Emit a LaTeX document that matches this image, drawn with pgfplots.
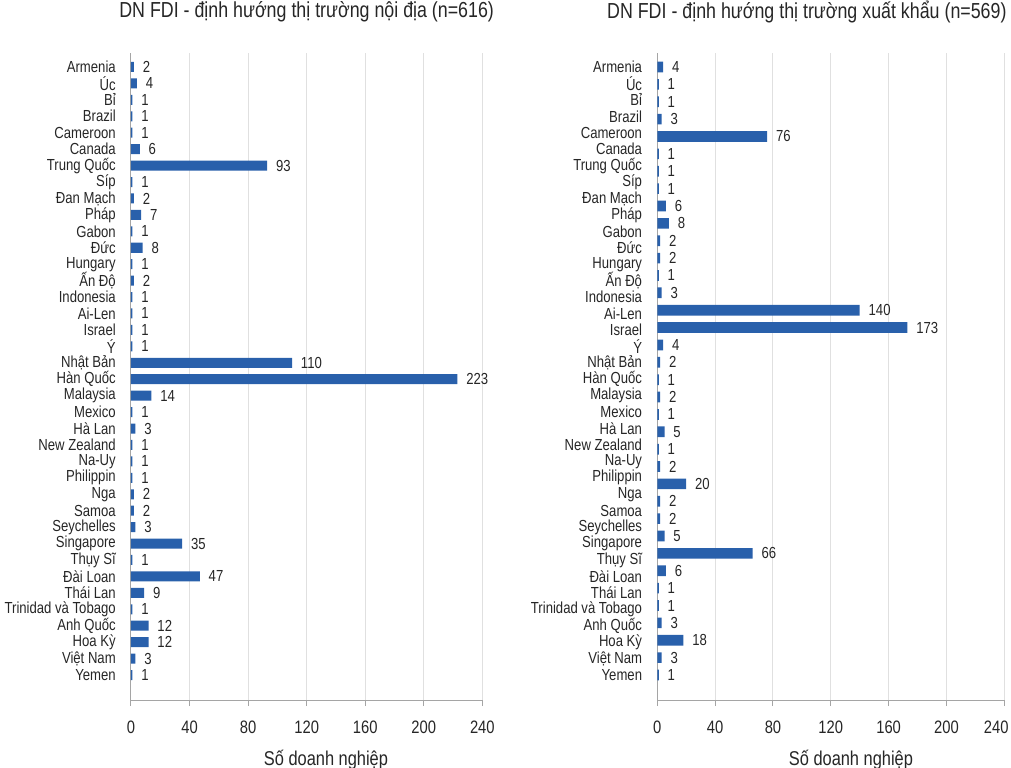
\documentclass[border=0pt]{standalone}
\usepackage{fontspec}
\setmainfont{Liberation Sans}[FakeStretch=0.82]
\usepackage{pgfplots}
\pgfplotsset{compat=1.18}
\usepackage{pgfplotstable}
\definecolor{barblue}{RGB}{41,96,171}
\definecolor{txt}{RGB}{38,38,38}
\definecolor{axgray}{RGB}{165,165,165}
\definecolor{gridgray}{RGB}{224,224,224}

\pgfplotstableread{
y v
37 2
36 4
35 1
34 1
33 1
32 6
31 93
30 1
29 2
28 7
27 1
26 8
25 1
24 2
23 1
22 1
21 1
20 1
19 110
18 223
17 14
16 1
15 3
14 1
13 1
12 1
11 2
10 2
9 3
8 35
7 1
6 47
5 9
4 1
3 12
2 12
1 3
0 1
}\leftdata

\pgfplotstableread{
y v
35 4
34 1
33 1
32 3
31 76
30 1
29 1
28 1
27 6
26 8
25 2
24 2
23 1
22 3
21 140
20 173
19 4
18 2
17 1
16 2
15 1
14 5
13 1
12 2
11 20
10 2
9 2
8 5
7 66
6 6
5 1
4 1
3 3
2 18
1 3
0 1
}\rightdata

\pgfplotsset{
  myaxis/.style={
    scale only axis, xbar, xmin=0, xmax=240,
    xtick={0,40,...,240},
    xmajorgrids, grid style={draw=gridgray, line width=0.75pt},
    axis x line*=bottom, axis y line*=left,
    axis line style={draw=axgray, line width=0.75pt, -},
    tick align=outside, major tick length=4.5pt,
    xtick style={draw=axgray, line width=0.75pt},
    ytick style={draw=none},
    /pgf/number format/assume math mode=true,
    ticklabel style={text=txt},
    xticklabel style={font=\fontsize{13.5}{16}\selectfont, anchor=center, yshift=-16pt},
    yticklabel style={font=\fontsize{12}{13}\selectfont, inner sep=0pt, xshift=-6.75pt},
    nodes near coords,
    every node near coord/.append style={font=\fontsize{12}{13}\selectfont, text=txt, anchor=west, inner sep=0pt, xshift=6.5pt},
    xlabel={Số doanh nghiệp},
    xlabel style={font=\fontsize{15}{17}\selectfont, text=txt, anchor=center},
    title style={font=\fontsize{16.3}{19}\selectfont, text=txt, anchor=center},
    yticklabels={Yemen, Việt Nam, Hoa Kỳ, Anh Quốc, Trinidad và Tobago, Thái Lan, Đài Loan, Thụy Sĩ, Singapore, Seychelles, Samoa, Nga, Philippin, Na-Uy, New Zealand, Hà Lan, Mexico, Malaysia, Hàn Quốc, Nhật Bản, Ý, Israel, Ai-Len, Indonesia, Ấn Độ, Hungary, Đức, Gabon, Pháp, Đan Mạch, Síp, Trung Quốc, Canada, Cameroon, Brazil, Bỉ, Úc, Armenia},
  }
}

\begin{document}
\begin{tikzpicture}
\useasboundingbox (0,0) rectangle (758.25pt,-576pt);
\begin{axis}[myaxis,
  at={(98.25pt,-525pt)}, anchor=south west,
  width=263.5pt, height=485.25pt,
  ymin=-1.52, ymax=37.85,
  bar width=7.5pt,
  ytick={0,...,37},
  xticklabels={\raisebox{-2.5pt}{0},40,80,120,160,200,240},
  title={DN FDI - định hướng thị trường nội địa (n=616)},
  title style={at={(axis description cs:0.5,1)}, yshift=24.75pt},
  xlabel style={at={(axis description cs:0.555,0)}, yshift=-45pt},
]
\addplot[draw=none, fill=barblue] table[x=v, y=y] {\leftdata};
\end{axis}

\begin{axis}[myaxis,
  at={(492.98pt,-525pt)}, anchor=south west,
  width=260.25pt, height=485.25pt,
  ymin=-1.44, ymax=35.806,
  bar width=8pt,
  ytick={0,0.9459,1.8919,2.8378,3.7838,4.7297,5.6757,6.6216,7.5676,8.5135,9.4595,10.4054,11.3514,12.2973,13.2432,14.1892,15.1351,16.0811,17.0270,17.9730,18.9189,19.8649,20.8108,21.7568,22.7027,23.6486,24.5946,25.5405,26.4865,27.4324,28.3784,29.3243,30.2703,31.2162,32.1622,33.1081,34.0541,35},
  xticklabels={0,40,80,120,160,200,\hspace*{-12pt}240},
  title={DN FDI - định hướng thị trường xuất khẩu (n=569)},
  title style={at={(axis description cs:0.431,1)}, yshift=24.75pt},
  xlabel style={at={(axis description cs:0.558,0)}, yshift=-45pt},
]
\addplot[draw=none, fill=barblue] table[x=v, y=y] {\rightdata};
\end{axis}
\end{tikzpicture}
\end{document}
